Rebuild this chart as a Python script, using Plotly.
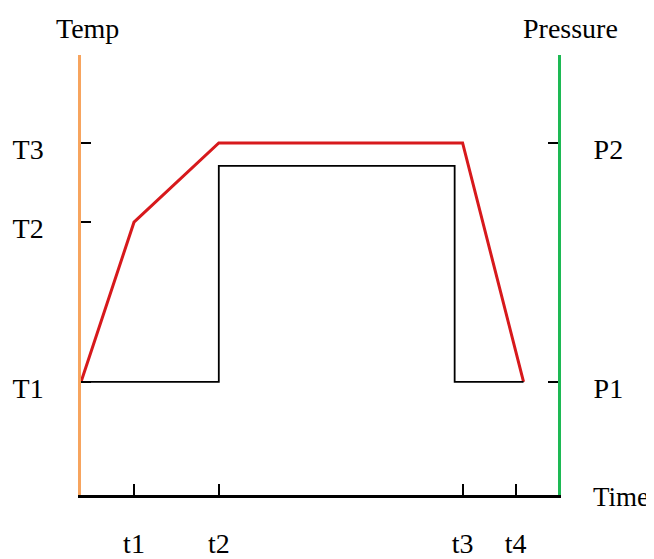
import plotly.graph_objects as go

# time ticks
time_ticks = [1.0, 2.6, 7.2, 8.2]
time_labels = ['t1', 't2', 't3', 't4']

# temperature levels
temp_ticks = [2.57, 6.2, 8.0]
temp_labels = ['T1', 'T2', 'T3']

# pressure levels
pres_ticks = [2.57, 8.0]
pres_labels = ['P1', 'P2']

# temperature profile (red)
temp_x = [0, 1.0, 2.6, 7.2, 8.35]
temp_y = [2.57, 6.2, 8.0, 8.0, 2.57]

# pressure profile (black)
pres_x = [0, 2.6, 2.6, 7.05, 7.05, 8.35]
pres_y = [2.57, 2.57, 7.48, 7.48, 2.57, 2.57]

serif = 'Liberation Serif'

fig = go.Figure()
fig.add_trace(go.Scatter(x=pres_x, y=pres_y, mode='lines', yaxis='y2',
                         line=dict(color='black', width=1.8), hoverinfo='skip'))
fig.add_trace(go.Scatter(x=temp_x, y=temp_y, mode='lines',
                         line=dict(color='#D7191C', width=3), hoverinfo='skip'))

# page body has an 8px margin, so the figure is a bit smaller than the window
fig.update_layout(
    width=646, height=551,
    margin=dict(l=73, r=96, t=47, b=64),
    paper_bgcolor='white',
    plot_bgcolor='white',
    showlegend=False,
    font=dict(family=serif, size=28, color='black'),
    xaxis=dict(range=[0, 9], showgrid=False, zeroline=False, automargin=False,
               showline=True, linecolor='black', linewidth=3,
               tickvals=time_ticks, ticktext=time_labels,
               ticks='inside', ticklen=11, tickwidth=2, tickcolor='black',
               ticklabelstandoff=21),
    yaxis=dict(range=[0, 10], showgrid=False, zeroline=False, automargin=False,
               showline=True, linecolor='#F7A45E', linewidth=2.5,
               tickvals=temp_ticks, ticktext=temp_labels,
               ticks='inside', ticklen=10, tickwidth=1.5, tickcolor='black',
               ticklabelstandoff=29, ticklabelshift=6),
    yaxis2=dict(range=[0, 10], overlaying='y', side='right', automargin=False,
                showgrid=False, zeroline=False,
                showline=True, linecolor='#1DB954', linewidth=3,
                tickvals=pres_ticks, ticktext=pres_labels,
                ticks='inside', ticklen=10, tickwidth=1.5, tickcolor='black',
                ticklabelstandoff=27, ticklabelshift=6),
)

fig.add_annotation(text='Temp', xref='paper', yref='paper', x=0, y=1,
                   xanchor='center', yanchor='middle', xshift=6, yshift=27,
                   showarrow=False)
fig.add_annotation(text='Pressure', xref='paper', yref='paper', x=1, y=1,
                   xanchor='center', yanchor='middle', xshift=12, yshift=27,
                   showarrow=False)
fig.add_annotation(text='Time', xref='paper', yref='paper', x=1, y=0,
                   xanchor='left', yanchor='middle', xshift=33, yshift=-2,
                   font=dict(size=27), showarrow=False)

fig.write_html('out.html')
